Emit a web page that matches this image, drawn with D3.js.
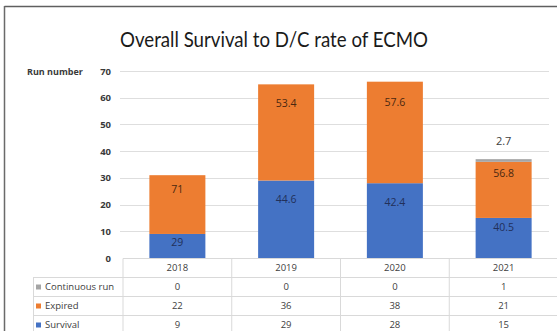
<!DOCTYPE html>
<html>
<head>
<meta charset="utf-8">
<script src="https://cdn.jsdelivr.net/npm/d3@7/dist/d3.min.js"></script>
<style>
  html, body { margin: 0; padding: 0; background: #fff; }
  svg { display: block; }
</style>
</head>
<body>
<svg id="chart" width="557" height="331"></svg>
<script>
// Yearly ECMO runs, split by outcome
const years = ["2018", "2019", "2020", "2021"];
const survival = [9, 29, 28, 15];
const expired = [22, 36, 38, 21];
const continuous = [0, 0, 0, 1];

// Percentage labels shown on each segment
const survivalPct = ["29", "44.6", "42.4", "40.5"];
const expiredPct = ["71", "53.4", "57.6", "56.8"];
const continuousPct = [null, null, null, "2.7"];

const yTicks = [0, 10, 20, 30, 40, 50, 60, 70];

const colors = { survival: "#4472C4", expired: "#ED7D31", continuous: "#A5A5A5" };

const svg = d3.select("#chart");

// Outer frame (top and left edges)
svg.append("line").attr("x1", 4.5).attr("x2", 557).attr("y1", 6.5).attr("y2", 6.5)
  .attr("stroke", "#5f5f5f").attr("stroke-width", 1.5);
svg.append("line").attr("x1", 4.5).attr("x2", 4.5).attr("y1", 6).attr("y2", 331)
  .attr("stroke", "#6a6a6a").attr("stroke-width", 1.5);

// Title
svg.append("text")
  .attr("x", 274).attr("y", 47)
  .attr("text-anchor", "middle")
  .attr("font-family", "Lato, 'Open Sans', sans-serif")
  .attr("font-size", 21)
  .attr("textLength", 308)
  .attr("lengthAdjust", "spacingAndGlyphs")
  .attr("fill", "#1a1a1a")
  .text("Overall Survival to D/C rate of ECMO");

const y = d3.scaleLinear().domain([0, 70]).range([258, 71]);
const x = d3.scaleBand().domain(years).range([123, 558])
  .paddingInner(0.485).paddingOuter(0.2425);

// Gridlines
svg.append("g").selectAll("line").data(yTicks.filter(d => d > 0)).join("line")
  .attr("x1", 120).attr("x2", 549)
  .attr("y1", d => Math.round(y(d)) + 0.5).attr("y2", d => Math.round(y(d)) + 0.5)
  .attr("stroke", "#dedede").attr("stroke-width", 1);

// Y axis tick labels
const yAxis = d3.axisLeft(y).tickValues(yTicks).tickSize(0).tickPadding(0);
const yg = svg.append("g").attr("transform", "translate(111,0)").call(yAxis);
yg.select(".domain").remove();
yg.selectAll("text")
  .attr("font-family", "'Open Sans', sans-serif")
  .attr("font-size", 9.5).attr("font-weight", "bold").attr("fill", "#3a3a3a");

svg.append("text")
  .attr("x", 27).attr("y", 74.5)
  .attr("font-family", "'Open Sans', sans-serif")
  .attr("font-size", 9).attr("font-weight", "bold").attr("fill", "#3a3a3a")
  .text("Run number");

// Stacked bars
const rows = years.map((yr, i) => ({
  year: yr,
  s: survival[i], e: expired[i], c: continuous[i],
  sp: survivalPct[i], ep: expiredPct[i], cp: continuousPct[i]
}));

const bars = svg.append("g");
rows.forEach(r => {
  const bx = x(r.year), bw = x.bandwidth();
  bars.append("rect").attr("x", bx).attr("width", bw)
    .attr("y", y(r.s)).attr("height", y(0) - y(r.s)).attr("fill", colors.survival);
  bars.append("rect").attr("x", bx).attr("width", bw)
    .attr("y", y(r.s + r.e)).attr("height", y(r.s) - y(r.s + r.e)).attr("fill", colors.expired);
  if (r.c > 0) {
    bars.append("rect").attr("x", bx).attr("width", bw)
      .attr("y", y(r.s + r.e + r.c)).attr("height", y(r.s + r.e) - y(r.s + r.e + r.c))
      .attr("fill", colors.continuous);
  }
});

// Segment labels, placed just inside the top of each segment
const expiredNudge = [14, 19, 21, 11];
const survivalNudge = [8, 19, 19, 9];
const lbl = svg.append("g")
  .attr("font-family", "'Open Sans', sans-serif")
  .attr("font-size", 10.5)
  .attr("text-anchor", "middle");
rows.forEach((r, i) => {
  const cx = x(r.year) + x.bandwidth() / 2;
  lbl.append("text").attr("x", cx).attr("y", y(r.s) + survivalNudge[i])
    .attr("dy", "0.35em").attr("fill", "#22305a").text(r.sp);
  lbl.append("text").attr("x", cx).attr("y", y(r.s + r.e) + expiredNudge[i])
    .attr("dy", "0.35em").attr("fill", "#4a2810").text(r.ep);
  if (r.cp) {
    lbl.append("text").attr("x", cx).attr("y", y(r.s + r.e + r.c) - 18)
      .attr("dy", "0.35em").attr("fill", "#404040").attr("font-size", 11).text(r.cp);
  }
});

// Data table under the axis
const rowH = 19;
const tableTop = 258.5;
const left = 33;
const xEdges = years.map(yr => x(yr) - x.step() * x.paddingInner() / 2);
const right = 558;
const tg = svg.append("g");
const lineColor = "#d9d9d9";

// Horizontal rules
tg.append("line").attr("x1", 123).attr("x2", right).attr("y1", tableTop).attr("y2", tableTop)
  .attr("stroke", lineColor);
[1, 2, 3].forEach(k => {
  tg.append("line").attr("x1", left).attr("x2", right)
    .attr("y1", tableTop + k * rowH).attr("y2", tableTop + k * rowH).attr("stroke", lineColor);
});
// Vertical rules
xEdges.forEach(ex => {
  tg.append("line").attr("x1", ex).attr("x2", ex).attr("y1", tableTop).attr("y2", 331)
    .attr("stroke", lineColor);
});
tg.append("line").attr("x1", left + 0.5).attr("x2", left + 0.5)
  .attr("y1", tableTop + rowH).attr("y2", 331).attr("stroke", lineColor);

const tfont = "'Open Sans', sans-serif";
// Header row of years
tg.selectAll("text.yr").data(years).join("text")
  .attr("class", "yr")
  .attr("x", d => x(d) + x.bandwidth() / 2)
  .attr("y", tableTop + rowH / 2).attr("dy", "0.35em")
  .attr("text-anchor", "middle")
  .attr("font-family", tfont).attr("font-size", 9.5).attr("fill", "#404040")
  .text(d => d);

const tableRows = [
  { name: "Continuous run", vals: continuous, color: colors.continuous },
  { name: "Expired", vals: expired, color: colors.expired },
  { name: "Survival", vals: survival, color: colors.survival }
];
tableRows.forEach((tr, k) => {
  const cy = tableTop + (k + 1) * rowH + rowH / 2;
  tg.append("rect").attr("x", 36).attr("y", cy - 2.5).attr("width", 5).attr("height", 5)
    .attr("fill", tr.color);
  tg.append("text").attr("x", 45).attr("y", cy).attr("dy", "0.35em")
    .attr("font-family", tfont).attr("font-size", 9.5).attr("fill", "#404040")
    .text(tr.name);
  tr.vals.forEach((v, i) => {
    tg.append("text").attr("x", x(years[i]) + x.bandwidth() / 2).attr("y", cy)
      .attr("dy", "0.35em").attr("text-anchor", "middle")
      .attr("font-family", tfont).attr("font-size", 9.5).attr("fill", "#404040")
      .text(v);
  });
});
</script>
</body>
</html>
